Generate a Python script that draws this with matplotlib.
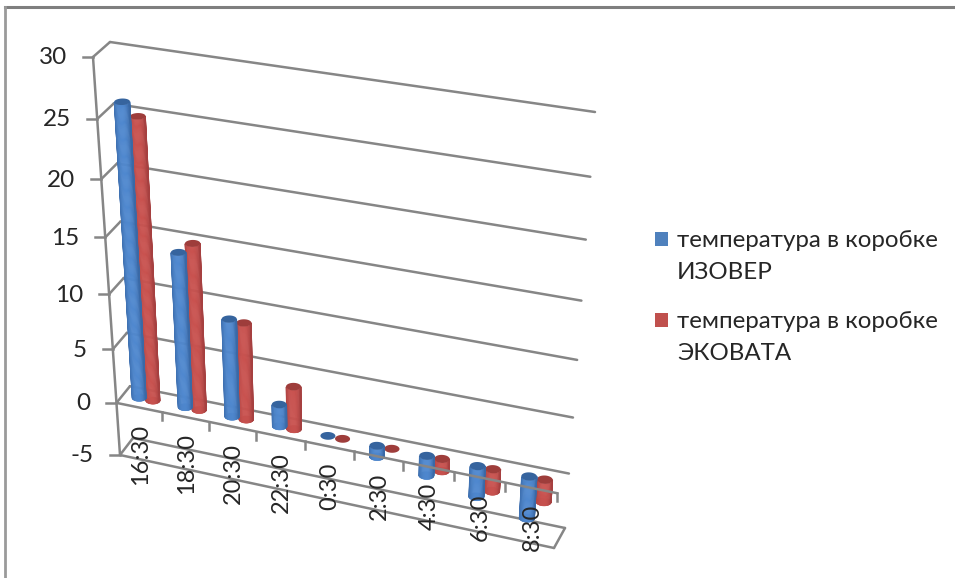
import numpy as np
import matplotlib
matplotlib.use("Agg")
import matplotlib.pyplot as plt
from matplotlib.colors import to_rgb
from matplotlib.patches import Rectangle

plt.rcParams['font.family'] = ['Lato', 'Noto Sans', 'DejaVu Sans']

# data
times = ['16:30', '18:30', '20:30', '22:30', '0:30', '2:30', '4:30', '6:30', '8:30']
izover = [26.0, 14.0, 8.9, 2.0, 0.0, -1.0, -1.8, -2.8, -3.8]
ekovata = [25.0, 15.0, 8.8, 3.9, 0.0, 0.0, -1.1, -2.0, -2.0]
value_ticks = [30, 25, 20, 15, 10, 5, 0, -5]
series_names = ['температура в коробке\nИЗОВЕР', 'температура в коробке\nЭКОВАТА']

V_MIN, V_MAX = -5, 30
GRID = '#868686'
TEXT = '#262626'
# cap, middle of the side, edge of the side
BLUE = ('#36649e', '#4f88cf', '#3a69a6')
RED = ('#9e3d3b', '#c9524f', '#a64040')

# box corners on the canvas: [u][height][depth], depth 0 is the front
CORNERS = np.array([
    [[(120, 455), (133, 438)], [(93, 57), (110, 42)]],
    [[(554, 548), (565, 528)], [(580, 130), (595, 112)]],
], dtype=float)


def foreshorten(w, k):
    return w * (1 + k) / (1 + k * w)


def project(pos, value, depth):
    # pos in categories, value in degrees, depth 0..1 -> canvas x, y
    pos, value, depth = np.broadcast_arrays(pos, value, depth)
    u = foreshorten(pos / len(times), -0.07)[..., None]
    t = foreshorten((value - V_MIN) / (V_MAX - V_MIN), -0.096)[..., None]
    d = depth[..., None]
    c = CORNERS
    low = (c[0, 0, 0] * (1 - u) + c[1, 0, 0] * u) * (1 - d) + (c[0, 0, 1] * (1 - u) + c[1, 0, 1] * u) * d
    high = (c[0, 1, 0] * (1 - u) + c[1, 1, 0] * u) * (1 - d) + (c[0, 1, 1] * (1 - u) + c[1, 1, 1] * u) * d
    p = low * (1 - t) + high * t
    return p[..., 0], p[..., 1]


def line3d(p0, p1, z=1, lw=1.8):
    x0, y0 = project(*p0)
    x1, y1 = project(*p1)
    ax.plot([x0, x1], [y0, y1], color=GRID, lw=lw, zorder=z, solid_capstyle='round')


def cylinder(center, value, colors, z):
    radius, depth_r = 0.145, 0.2
    theta = np.linspace(0, 2 * np.pi, 49)
    px = center + radius * np.cos(theta)
    pd = 0.5 + depth_r * np.sin(theta)
    top, bottom = max(value, 0), min(value, 0)

    if top != bottom:
        ax.fill(*project(px, bottom, pd), color=colors[2], lw=0, zorder=z)
        # the round side is made of thin strips, the visible half starts at
        # the silhouette, which is turned a bit because of the slanted depth
        phi = np.radians(24)
        front = np.linspace(np.pi + phi, 2 * np.pi + phi, 25)
        mid, edge = np.array(to_rgb(colors[1])), np.array(to_rgb(colors[2]))
        for a, b in zip(front[:-1], front[1:]):
            mix = min(abs(np.cos((a + b) / 2 - phi) + 0.1) ** 2.5, 1)
            col = mid * (1 - mix) + edge * mix
            sx = center + radius * np.cos([a, b, b, a])
            sd = 0.5 + depth_r * np.sin([a, b, b, a])
            sv = np.array([top, top, bottom, bottom], dtype=float)
            ax.fill(*project(sx, sv, sd), facecolor=col, edgecolor=col, lw=0.4, zorder=z)
    ax.fill(*project(px, top, pd), color=colors[0], lw=0, zorder=z + 0.001)


fig = plt.figure(figsize=(9.55, 5.78), dpi=100)
ax = fig.add_axes([0, 0, 1, 1])
ax.set_xlim(0, 955)
ax.set_ylim(578, 0)
ax.axis('off')

# outer frame, only the top and the left side show
ax.plot([5, 955], [7, 7], color='#7f7f7f', lw=2.2, zorder=1)
ax.plot([5, 5], [7, 578], color='#9a9a9a', lw=2.0, zorder=1)

n = len(times)

# walls
for v in value_ticks:
    line3d((0, v, 0), (0, v, 1))
    line3d((0, v, 1), (n, v, 1))
    x, y = project(0, v, 0)
    ax.plot([x - 10, x], [y, y], color=GRID, lw=1.8, zorder=1)
    ax.text(x - 26, y + 1, str(v), ha='right', va='center', fontsize=17.5, color=TEXT, zorder=6)
line3d((0, V_MIN, 0), (0, V_MAX, 0))

# lower plate and the front edge of the zero plane lie over the bars
line3d((0, V_MIN, 0), (n, V_MIN, 0), z=4)
line3d((n, V_MIN, 0), (n, V_MIN, 1), z=4)
line3d((0, 0, 0), (n, 0, 0), z=4)

for i in range(n):
    x, y = project(i + 1, 0, 0)
    ax.plot([x, x], [y, y + 8], color=GRID, lw=1.8, zorder=4)

    # red first, blue sits in front of it
    cylinder(i + 0.65, ekovata[i], RED, 3 + i * 0.01)
    cylinder(i + 0.35, izover[i], BLUE, 3.005 + i * 0.01)

    lx, ly = project(i + 0.5, 0, 0)
    ax.text(lx + 1, ly + 16, times[i], rotation=90, ha='center', va='top',
            fontsize=17, color=TEXT, zorder=6)

# legend
for name, color, y in zip(series_names, ('#4f81bd', '#c0504d'), (239, 320)):
    ax.add_patch(Rectangle((655, y - 7), 13, 14, facecolor=color, edgecolor='none', zorder=5))
    ax.text(677, y - 9, name, ha='left', va='top', fontsize=17.4, linespacing=1.62,
            color=TEXT, zorder=6)

fig.savefig('out.png', dpi=100)
